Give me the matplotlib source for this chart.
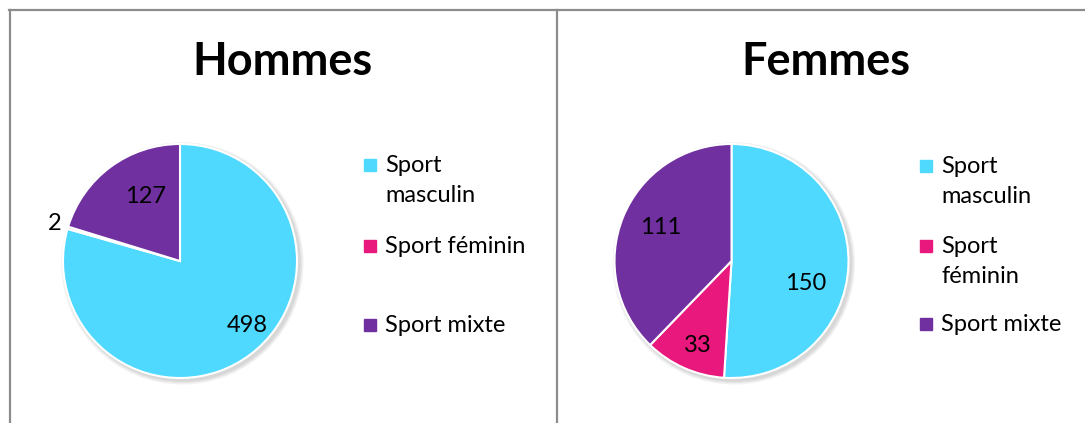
import matplotlib.pyplot as plt
import numpy as np
from matplotlib.lines import Line2D
from matplotlib.patches import Rectangle, Circle

W, H = 1085, 423

CATEGORIES = ["Sport masculin", "Sport féminin", "Sport mixte"]
LEGEND_LEFT = ["Sport\nmasculin", "Sport féminin", "Sport mixte"]
LEGEND_RIGHT = ["Sport\nmasculin", "Sport\nféminin", "Sport mixte"]
HOMMES = [498, 2, 127]
FEMMES = [150, 33, 111]
COLORS = ["#4fd9ff", "#e8187c", "#7030a0"]

FONT = "Lato"
plt.rcParams["font.family"] = [FONT, "DejaVu Sans"]


def px(x, y):
    # pixel coords (top-left origin) -> figure fraction
    return x / W, 1 - y / H


def draw_pie(fig, cx, cy, r, values, label_r, label_shift):
    ax = fig.add_axes([(cx - r) / W, (H - cy - r) / H, 2 * r / W, 2 * r / H])
    # soft shadow
    for k, a in enumerate([0.05, 0.05, 0.06]):
        ax.add_patch(Circle((0.02, -0.02), 1.0 + 0.012 * (3 - k),
                            color="black", alpha=a, lw=0, zorder=0,
                            clip_on=False))
    wedges, _ = ax.pie(values, colors=COLORS, startangle=90, counterclock=False,
                       radius=1.0,
                       wedgeprops=dict(edgecolor="white", linewidth=1.5,
                                       clip_on=False))
    # data labels roughly where Excel puts them
    for w, v, lr, sh in zip(wedges, values, label_r, label_shift):
        ang = np.deg2rad((w.theta1 + w.theta2) / 2 + sh)
        ax.text(lr * np.cos(ang), lr * np.sin(ang), str(v),
                ha="center", va="center", fontsize=17, color="black")
    ax.set_xlim(-1, 1)
    ax.set_ylim(-1, 1)
    ax.set_aspect("equal")
    ax.axis("off")
    return ax


def draw_legend(fig, x, ys, labels):
    for y, lab, c in zip(ys, labels, COLORS):
        fx, fy = px(x, y + 6)
        fig.patches.append(Rectangle((fx, fy), 12 / W, 12 / H, color=c,
                                     transform=fig.transFigure, figure=fig))
        tx, ty = px(x + 21, y - 10)
        fig.text(tx, ty, lab, ha="left", va="top", fontsize=17,
                 color="black", linespacing=1.55)


fig = plt.figure(figsize=(W / 100, H / 100), dpi=100)

# panel borders
line_kw = dict(color="#8c8c8c", linewidth=1.6, transform=fig.transFigure)
fig.add_artist(Line2D([9 / W, 1], [1 - 10.5 / H] * 2, **line_kw))
fig.add_artist(Line2D([9.5 / W] * 2, [1 - 10 / H, 0], **line_kw))
fig.add_artist(Line2D([557 / W] * 2, [1 - 10 / H, 0], **line_kw))

# titles
fig.text(*px(283, 62), "Hommes", ha="center", va="center",
         fontsize=32.5, fontweight="bold")
fig.text(*px(826, 62), "Femmes", ha="center", va="center",
         fontsize=32.5, fontweight="bold")

draw_pie(fig, 180, 261, 117, HOMMES, [0.8, 1.12, 0.62], [9, 0, -8.5])
draw_pie(fig, 731.5, 261, 117, FEMMES, [0.66, 0.78, 0.67], [-15, 2, -3])

draw_legend(fig, 364, [165, 246, 325], LEGEND_LEFT)
draw_legend(fig, 920, [166, 246, 324], LEGEND_RIGHT)

fig.savefig("out.png", dpi=100, facecolor="white")
